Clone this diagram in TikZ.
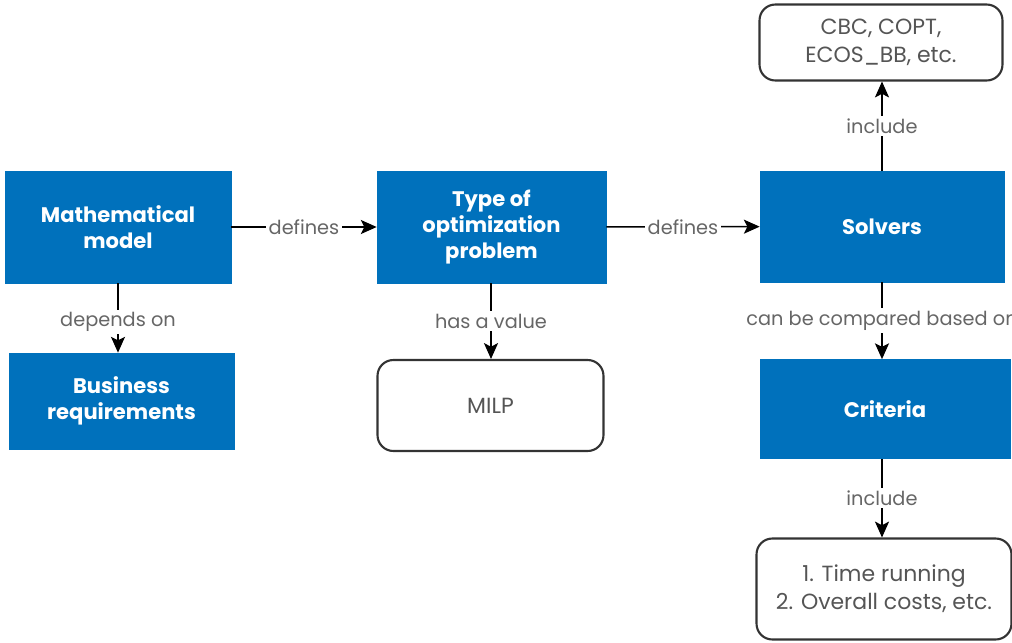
\documentclass[tikz,border=0pt]{standalone}
\usepackage{fontspec}
\setmainfont{Poppins}
\usetikzlibrary{arrows.meta}
\definecolor{boxblue}{HTML}{0071BC}
\definecolor{labelgray}{HTML}{666666}
\definecolor{textgray}{HTML}{555555}
\definecolor{edgegray}{HTML}{333333}
\tikzset{
  bluebox/.style={fill=boxblue, draw=boxblue, text=white, font=\bfseries\fontsize{12}{15}\selectfont,
    align=center, inner sep=0pt},
  valuebox/.style={draw=edgegray, line width=1.2pt, rounded corners=9pt, fill=white, text=textgray,
    font=\fontsize{12.5}{16}\selectfont, align=center, inner sep=0pt},
  link/.style={line width=0.85pt, -{Stealth[length=9pt,width=8pt,inset=2pt]}},
  lbl/.style={fill=white, text=labelgray, font=\fontsize{11}{13}\selectfont, inner sep=1.5pt}
}
\begin{document}
\begin{tikzpicture}[x=0.02cm, y=-0.02cm]
  \useasboundingbox (0,0) rectangle (1012,643);
  \clip (0,0) rectangle (1012,643);

  % main blue boxes
  \node[bluebox, minimum width=4.52cm, minimum height=2.24cm] (model) at (118,227) {Mathematical\\model};
  \node[bluebox, minimum width=4.5cm, minimum height=1.92cm] (business) at (121.5,401) {Business\\requirements};
  \node[bluebox, minimum width=4.58cm, minimum height=2.24cm] (type) at (491.5,227) {Type of\\optimization\\problem};
  \node[bluebox, minimum width=4.88cm, minimum height=2.22cm] (solvers) at (882,226.5) {Solvers};
  \node[bluebox, minimum width=5.0cm, minimum height=1.98cm] (criteria) at (885,409) {Criteria};

  % value boxes
  \node[valuebox, minimum width=4.52cm, minimum height=1.82cm] (milp) at (490.5,405.5) {MILP};
  \node[valuebox, minimum width=4.86cm, minimum height=1.52cm] (list) at (881,42.5) {CBC, COPT,\\ECOS\_BB, etc.};
  \node[valuebox, minimum width=5.1cm, minimum height=2.02cm] (costs) at (884,589) {1. Time running\\2. Overall costs, etc.};

  % connectors
  \draw[link] (model) -- node[lbl] {defines} (type);
  \draw[link] (type) -- node[lbl] {defines} (solvers);
  \draw[link] (model.south -| 118,0) -- node[lbl, pos=0.56] {depends on} (business.north -| 118,0);
  \draw[link] (type.south -| 491,0) -- node[lbl, pos=0.5] {has a value} (milp.north -| 491,0);
  \draw[link] (solvers.north -| 882,0) -- node[lbl] {include} (list.south -| 882,0);
  \draw[link] (solvers.south -| 882,0) -- node[lbl] {can be compared based on} (criteria.north -| 882,0);
  \draw[link] (criteria.south -| 882,0) -- node[lbl] {include} (costs.north -| 882,0);
\end{tikzpicture}
\end{document}
